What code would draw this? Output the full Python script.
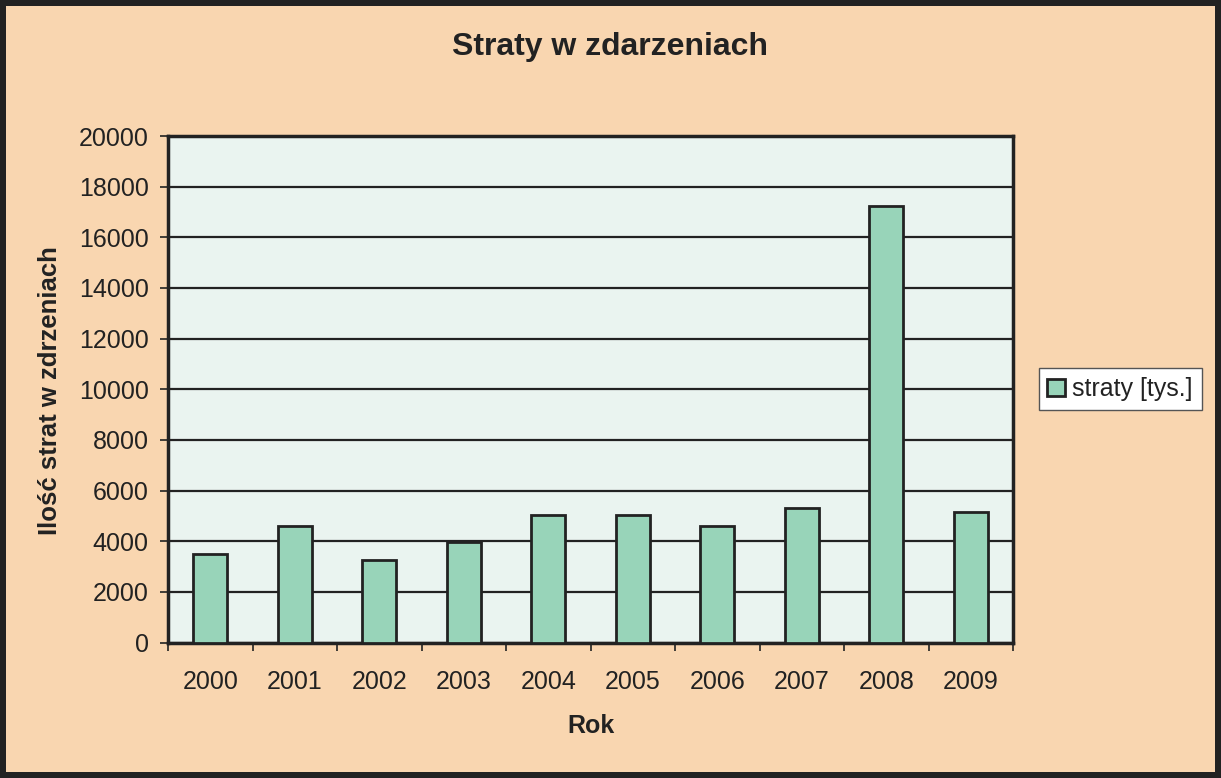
import numpy as np, matplotlib.pyplot as plt

years=["2000","2001","2002","2003","2004","2005","2006","2007","2008","2009"]
straty=[3500,4600,3250,3950,5050,5050,4600,5300,17250,5150]
yticks=[0,2000,4000,6000,8000,10000,12000,14000,16000,18000,20000]

bg="#F9D6B0"; plotbg="#EAF4F0"; barc="#98D4B9"; dark="#222222"
plt.rcParams['font.family']=['Liberation Sans','DejaVu Sans']

fig=plt.figure(figsize=(12.21,7.78),dpi=100)
fig.patch.set_facecolor(bg)
fig.patch.set_edgecolor(dark)
fig.patch.set_linewidth(7.5)
ax=fig.add_axes([168/1221,1-642.5/778,(1013-168)/1221,(642.5-136)/778])
ax.set_facecolor(plotbg)

x=np.arange(len(years))
ax.set_axisbelow(True)
ax.yaxis.grid(True,color=dark,lw=1.6)
ax.bar(x,straty,width=0.4,color=barc,edgecolor=dark,lw=2,label="straty [tys.]",zorder=3)

ax.set_xlim(-0.5,len(years)-0.5)
ax.set_ylim(0,20000)
ax.set_yticks(yticks)
ax.set_xticks(x)
ax.set_xticklabels(years)
ax.set_xticks(np.arange(len(years)+1)-0.5,minor=True)
ax.tick_params(axis='x',which='major',length=0,pad=20,labelsize=18,colors=dark)
ax.tick_params(axis='x',which='minor',length=6,width=1.2,color=dark)
ax.tick_params(axis='y',length=6,width=1.2,pad=8,labelsize=18,colors=dark)
for s in ax.spines.values():
    s.set_linewidth(2.5); s.set_color(dark)

fig.text(0.5,1-47/778,"Straty w zdarzeniach",ha='center',va='center',fontsize=23,fontweight='bold',color=dark)
fig.text(591/1221,1-726/778,"Rok",ha='center',va='center',fontsize=18,fontweight='bold',color=dark)
fig.text(50/1221,1-391/778,"Ilość strat w zdrzeniach",ha='center',va='center',rotation=90,fontsize=18.5,fontweight='bold',color=dark)

leg=fig.legend(loc='center',bbox_to_anchor=(1120/1221,1-389/778),fontsize=18,frameon=True,fancybox=False,
               framealpha=1,handlelength=0.7,handleheight=0.7,handletextpad=0.3,borderpad=0.35,borderaxespad=0)
leg.get_frame().set_edgecolor("#555555")
leg.get_frame().set_linewidth(1.0)
leg.get_frame().set_facecolor("white")
for t in leg.get_texts(): t.set_color(dark)

fig.savefig("out.png",dpi=100,facecolor=fig.get_facecolor(),edgecolor=fig.get_edgecolor())
